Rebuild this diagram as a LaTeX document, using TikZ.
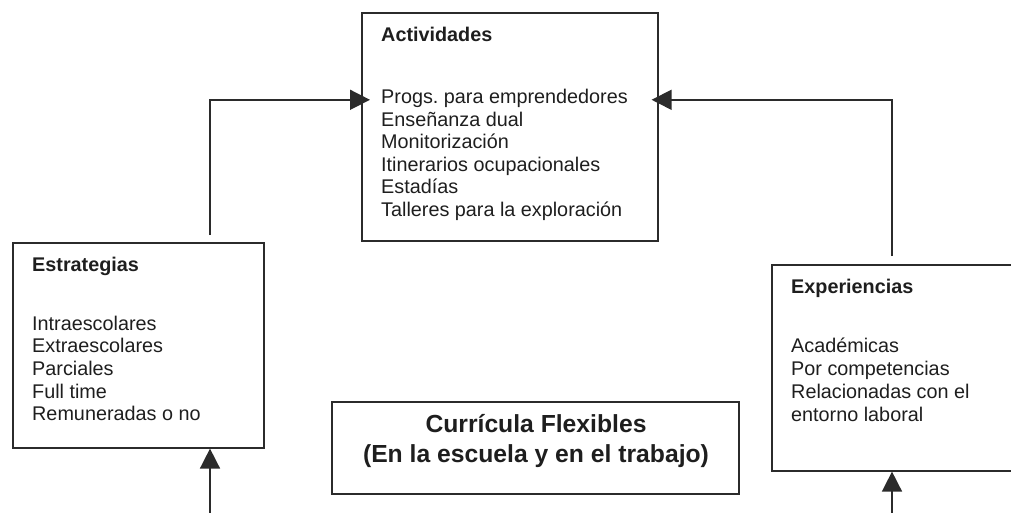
\documentclass[tikz,border=0pt]{standalone}
\usepackage{fontspec}
\setmainfont{Liberation Sans}
\usetikzlibrary{arrows.meta}
\definecolor{ln}{HTML}{2B2B2B}
\definecolor{tx}{HTML}{1E1E1E}
\frenchspacing
\begin{document}
\begin{tikzpicture}[x=1pt,y=-1pt,
  box/.style={draw=ln, line width=1.6pt, rectangle, inner sep=0pt, anchor=north west},
  ttl/.style={font=\fontsize{19.8}{22}\selectfont\bfseries, text=tx, anchor=base west, inner sep=0pt},
  itm/.style={font=\fontsize{19.8}{22}\selectfont, text=tx, anchor=base west, inner sep=0pt},
  con/.style={draw=ln, line width=1.6pt},
  arr/.style={con, -{Triangle[length=20pt,width=20pt]}}]
\useasboundingbox (0,0) rectangle (1011,513);
\clip (0,0) rectangle (1011,513);
% boxes
\node[box, minimum width=296pt, minimum height=228pt] (act) at (361,12) {};
\node[box, minimum width=251pt, minimum height=205pt] (est) at (12,242) {};
\node[box, minimum width=260pt, minimum height=206pt] (exp) at (771,264) {};
\node[box, minimum width=407pt, minimum height=92pt] (cur) at (331,401) {};
% Actividades
\node[ttl] (actT) at (381,42) {Actividades};
\foreach \t [count=\i] in {Progs. para emprendedores, Enseñanza dual, Monitorización, Itinerarios ocupacionales, Estadías, Talleres para la exploración}
  \node[itm] (act\i) at (381,{104+22.4*(\i-1)}) {\t};
% Estrategias
\node[ttl] (estT) at (32,271) {Estrategias};
\foreach \t [count=\i] in {Intraescolares, Extraescolares, Parciales, Full time, Remuneradas o no}
  \node[itm] (est\i) at (32,{330+22.7*(\i-1)}) {\t};
% Experiencias
\node[ttl] (expT) at (791,293) {Experiencias};
\foreach \t [count=\i] in {Académicas, Por competencias, Relacionadas con el, entorno laboral}
  \node[itm] (exp\i) at (791,{352+23*(\i-1)}) {\t};
% Curricula
\node[font=\fontsize{24.7}{29.5}\selectfont\bfseries, text=tx, align=center, inner sep=0pt] (curT) at (536,441) {Currícula Flexibles\\(En la escuela y en el trabajo)};
% connectors
\draw[arr, shorten >=-9pt] ([shift={(198,-7)}]est.north west) |- ([shift={(0,-27)}]act.west);
\draw[arr, shorten >=-7pt] ([shift={(121,-8)}]exp.north west) |- ([shift={(0,-27)}]act.east);
\coordinate (b1) at (210,513);
\coordinate (b2) at (892,513);
\draw[arr] (b1) -- (est.south -| b1);
\draw[arr] (b2) -- (exp.south -| b2);
\end{tikzpicture}
\end{document}
